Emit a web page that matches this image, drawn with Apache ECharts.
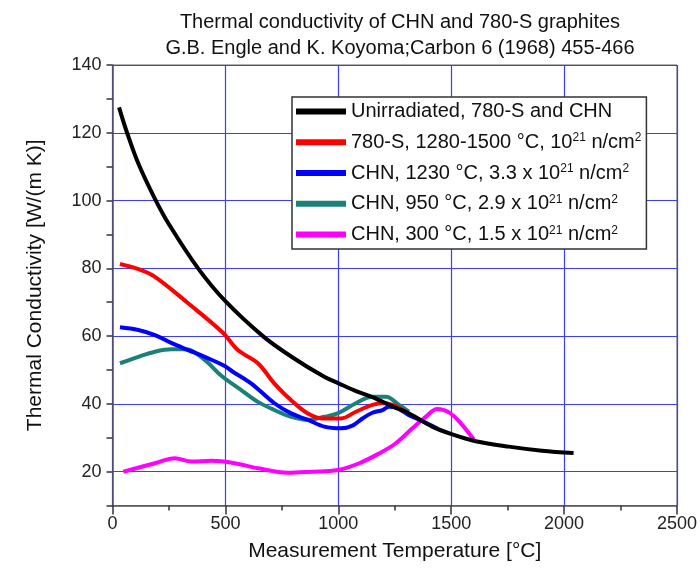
<!DOCTYPE html>
<html><head><meta charset="utf-8">
<script src="https://cdn.jsdelivr.net/npm/echarts@6/dist/echarts.min.js"></script>
<style>html,body{margin:0;padding:0;background:#fff}#c{width:700px;height:571px}</style>
</head><body><div id="c"></div>
<script>
const seriesNames = [
  'Unirradiated, 780-S and CHN',
  '780-S, 1280-1500 °C, 10{s|21} n/cm{s|2}',
  'CHN, 1230 °C, 3.3 x 10{s|21} n/cm{s|2}',
  'CHN, 950 °C, 2.9 x 10{s|21} n/cm{s|2}',
  'CHN, 300 °C, 1.5 x 10{s|21} n/cm{s|2}'
];
const seriesColors = ['#000000', '#ff0000', '#0000ff', '#1a8078', '#ff00ff'];

const unirrX = [29,63,114,188,250,379,500,666,791,938,1004,1071,1151,1250,1314,1416,1505,1608,1755,1902,2042];
const unirrY = [127.5,120.3,111,100.5,93,80,70.3,60,54,48,46,44,42,39,37.2,33.3,31,29,27.4,26.2,25.5];

const s780X = [33,114,188,335,489,555,644,717,791,865,938,1012,1078,1151,1196,1250,1300];
const s780Y = [81.3,79.8,77.5,69.7,61,55.9,52,46,41.1,37.2,35.7,35.7,37.7,39.7,40.3,39.5,37.5];

const chn1230X = [33,114,188,260,335,408,497,533,615,717,791,865,938,1012,1063,1107,1151,1196,1225,1260,1313,1370,1440];
const chn1230Y = [62.6,61.8,60.3,58,55.9,53.9,51.2,49.5,46,40.2,37.2,35.3,33.3,32.8,33.6,35.7,37.4,38.2,39.2,38.8,36.7,35,32.7];

const chn950X = [33,114,188,261,327,408,482,570,644,717,791,865,938,997,1078,1151,1211,1269,1313];
const chn950Y = [52,53.9,55.4,56.1,56.1,53,48.3,44.1,40.6,38.2,36.2,35.3,36.2,37.2,40.2,42.1,42.1,39.7,37.7];

const chn300X = [48,188,276,350,438,541,644,776,879,997,1093,1181,1255,1328,1387,1438,1490,1540,1600];
const chn300Y = [20,22.5,24,23,23.2,22.5,21,19.7,20,20.5,22.5,25.4,28.4,32.8,36.2,38.5,37.5,34.5,29.5];

const xTicks = [0, 500, 1000, 1500, 2000, 2500];
const yTicks = [20, 40, 60, 80, 100, 120, 140];

const allX = [unirrX, s780X, chn1230X, chn950X, chn300X];
const allY = [unirrY, s780Y, chn1230Y, chn950Y, chn300Y];

const FONT = 'Liberation Sans';
const chart = echarts.init(document.getElementById('c'), null, {renderer: 'canvas'});

const series = seriesNames.map((n, i) => ({
  name: n,
  type: 'line',
  data: allX[i].map((x, j) => [x, allY[i][j]]),
  smooth: 0.35,
  showSymbol: false,
  symbol: 'none',
  lineStyle: {color: seriesColors[i], width: 4},
  itemStyle: {color: seriesColors[i]},
  z: 10 - i,
  animation: false
}));

chart.setOption({
  animation: false,
  backgroundColor: '#ffffff',
  title: {
    text: 'Thermal conductivity of CHN and 780-S graphites\nG.B. Engle and K. Koyoma;Carbon 6 (1968) 455-466',
    left: 395, top: 4, textAlign: 'center',
    textStyle: {fontFamily: FONT, fontSize: 20, fontWeight: 'normal', color: '#111', lineHeight: 26}
  },
  grid: {left: 112.5, right: 21, top: 65, bottom: 65.4, show: true, borderColor: '#666', borderWidth: 1, backgroundColor: 'transparent'},
  legend: {
    orient: 'vertical', left: 292, top: 97,
    icon: 'rect', itemWidth: 50, itemHeight: 6, itemGap: 10,
    padding: [4, 5, 4, 4],
    borderColor: '#333', borderWidth: 1.5, backgroundColor: '#fff',
    data: seriesNames,
    textStyle: {
      fontFamily: FONT, fontSize: 20, color: '#111', lineHeight: 20.8,
      rich: {s: {fontFamily: FONT, fontSize: 12, color: '#111', verticalAlign: 'top', lineHeight: 12}}
    },
    selectedMode: false
  },
  xAxis: {
    type: 'value', min: 0, max: 2500, interval: 500,
    name: 'Measurement Temperature [°C]', nameLocation: 'middle', nameGap: 35,
    nameTextStyle: {fontFamily: FONT, fontSize: 21, color: '#111'},
    axisLine: {show: true, lineStyle: {color: '#555', width: 1.5}},
    axisTick: {show: true, length: 9, inside: false, lineStyle: {color: '#333', width: 1.5}},
    minorTick: {show: true, splitNumber: 2, length: 5, lineStyle: {color: '#333', width: 1.5}},
    axisLabel: {fontFamily: FONT, fontSize: 18, color: '#222', margin: 9,
      formatter: v => xTicks.indexOf(v) >= 0 ? String(v) : ''},
    splitLine: {show: true, lineStyle: {color: '#3c3cff', width: 1.2}}
  },
  yAxis: {
    type: 'value', min: 10, max: 140, interval: 10,
    name: 'Thermal Conductivity [W/(m K)]', nameLocation: 'middle', nameGap: 67,
    nameTextStyle: {fontFamily: FONT, fontSize: 21, color: '#111'},
    axisLine: {show: true, onZero: false, lineStyle: {color: '#555', width: 1.5}},
    axisTick: {show: true, length: 6, lineStyle: {color: '#333', width: 1.5}},
    axisLabel: {fontFamily: FONT, fontSize: 18, color: '#222', margin: 11,
      formatter: v => yTicks.indexOf(v) >= 0 ? String(v) : ''},
    splitLine: {show: true, lineStyle: {color: ['rgba(0,0,0,0)', '#3c3cff'], width: 1.2}}
  },
  series: series
});
</script></body></html>
